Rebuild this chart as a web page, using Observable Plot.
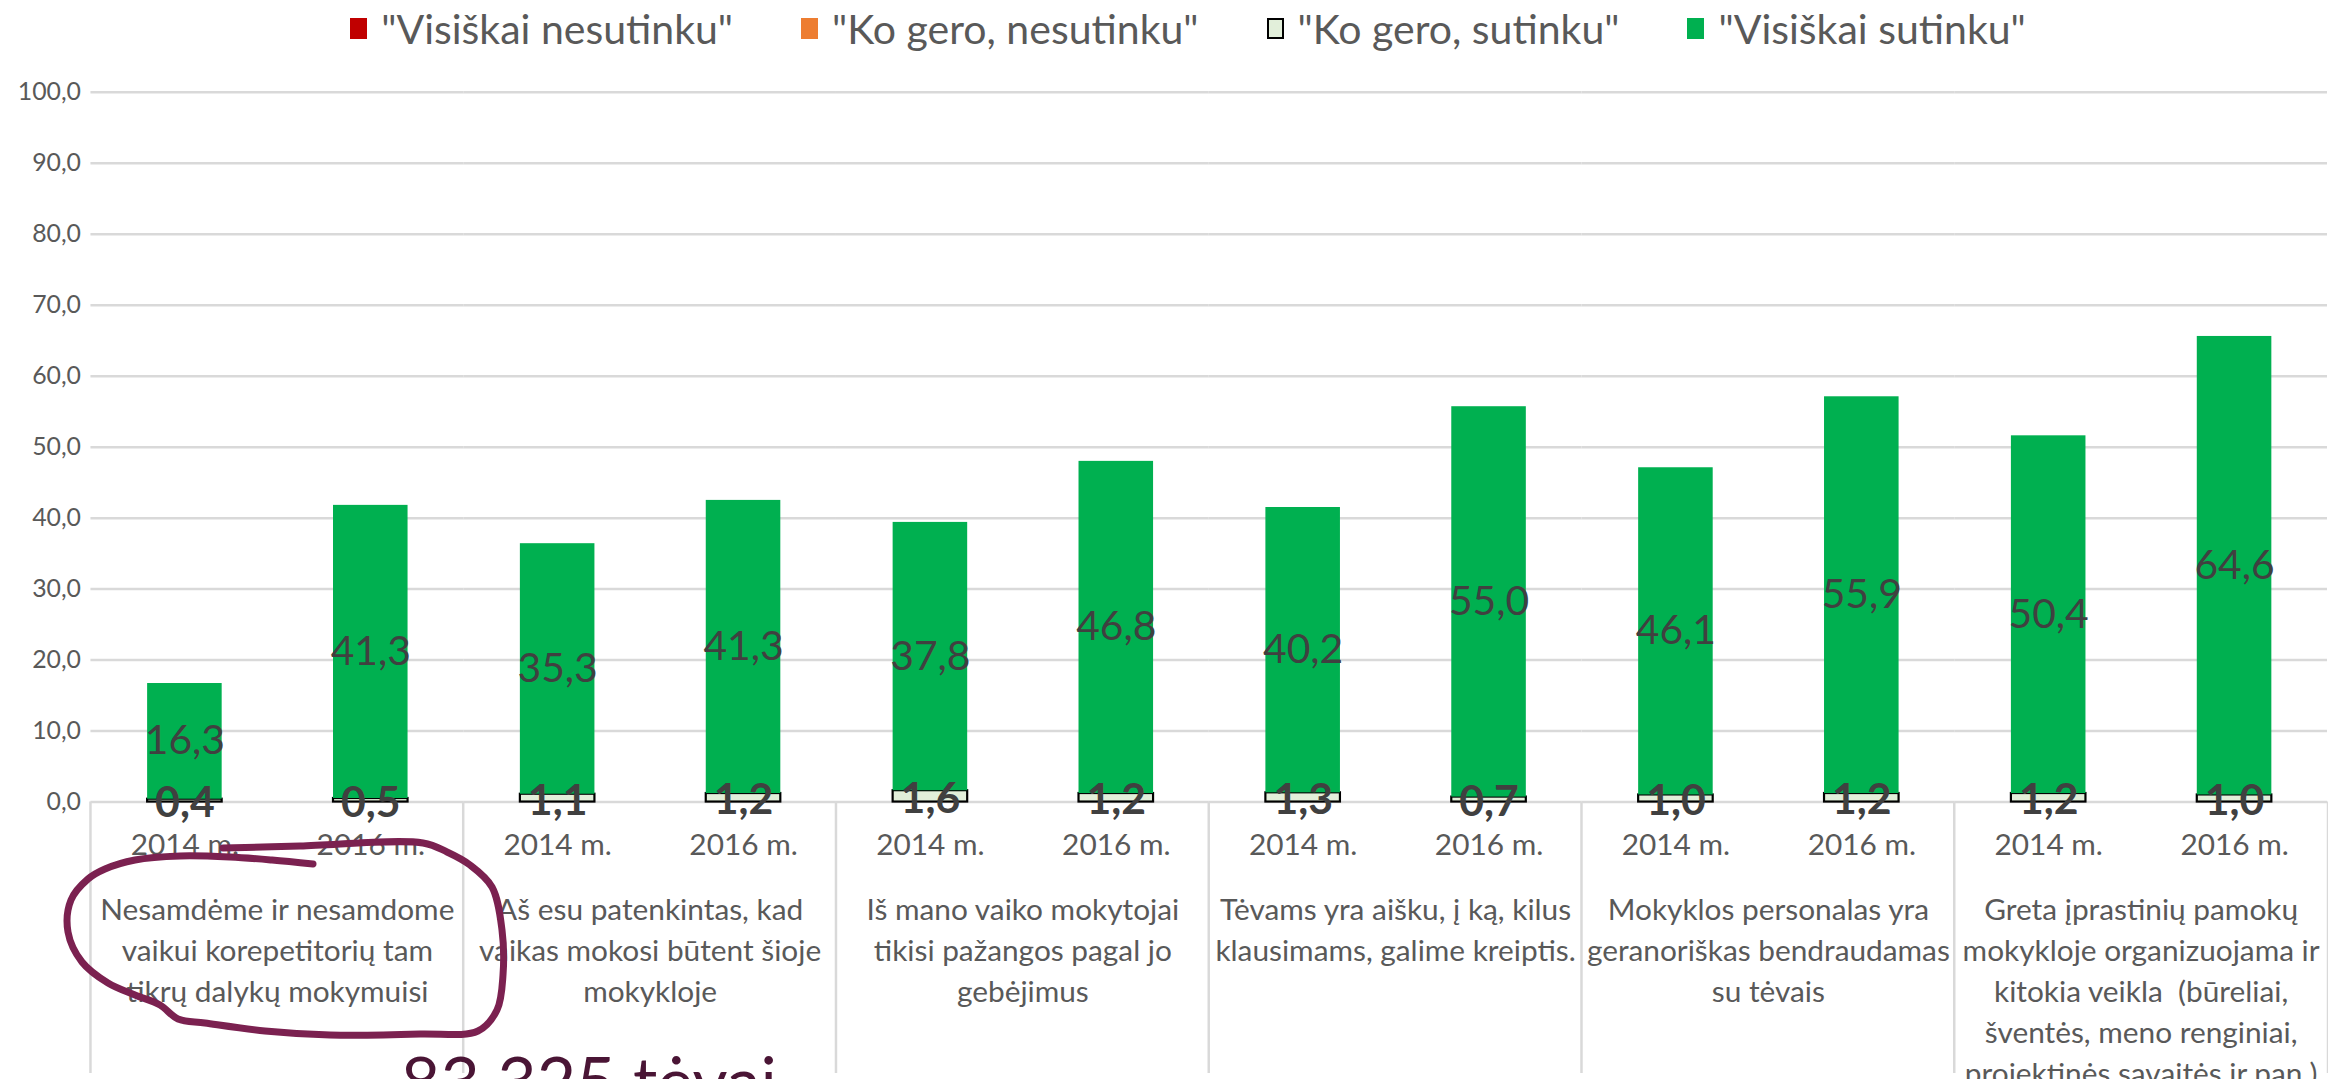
<!DOCTYPE html>
<html>
<head>
<meta charset="utf-8">
<script src="https://cdn.jsdelivr.net/npm/d3@7"></script>
<script src="https://cdn.jsdelivr.net/npm/@observablehq/plot@0.6"></script>
<style>
  html, body { margin: 0; padding: 0; background: #fff; overflow: hidden; }
  #wrap { position: relative; width: 2328px; height: 1079px; overflow: hidden; font-family: Lato, "Open Sans", sans-serif; }
  #legend { position: absolute; left: 0; top: 0; width: 2328px; height: 56px; display: flex; justify-content: center; align-items: center; gap: 68px; padding-left: 48px; box-sizing: border-box; }
  .item { display: flex; align-items: center; gap: 14px; font-size: 41px; color: #595959; white-space: nowrap; }
  .sw { width: 17px; height: 21px; box-sizing: border-box; }
  #chart { position: absolute; left: 0; top: 60px; }
  #big { position: absolute; left: 401px; top: 1046px; font-size: 68px; line-height: 1; color: #4a1535; white-space: nowrap; }
  #ink { position: absolute; left: 0; top: 0; pointer-events: none; }
</style>
</head>
<body>
<div id="wrap">
  <div id="legend"></div>
  <div id="chart"></div>
  <div id="big">83 325 tėvai</div>
</div>
<script>
// ---- data ----
const groups = [
  "Nesamdėme ir nesamdome\nvaikui korepetitorių tam\ntikrų dalykų mokymuisi",
  "Aš esu patenkintas, kad\nvaikas mokosi būtent šioje\nmokykloje",
  "Iš mano vaiko mokytojai\ntikisi pažangos pagal jo\ngebėjimus",
  "Tėvams yra aišku, į ką, kilus\nklausimams, galime kreiptis.",
  "Mokyklos personalas yra\ngeranoriškas bendraudamas\nsu tėvais",
  "Greta įprastinių pamokų\nmokykloje organizuojama ir\nkitokia veikla  (būreliai,\nšventės, meno renginiai,\nprojektinės savaitės ir pan.)"
];
const years = ["2014 m.", "2016 m."];
const koGeroSutinku = [0.4, 0.5, 1.1, 1.2, 1.6, 1.2, 1.3, 0.7, 1.0, 1.2, 1.2, 1.0];
const visiskaiSutinku = [16.3, 41.3, 35.3, 41.3, 37.8, 46.8, 40.2, 55.0, 46.1, 55.9, 50.4, 64.6];
const seriesNames = ["\"Visiškai nesutinku\"", "\"Ko gero, nesutinku\"", "\"Ko gero, sutinku\"", "\"Visiškai sutinku\""];
const seriesColors = ["#c00000", "#ed7d31", "#e2efda", "#00b050"];
const yTicks = [0, 10, 20, 30, 40, 50, 60, 70, 80, 90, 100];
const bigNote = "83 325 tėvai";

// ---- legend ----
const legend = document.getElementById("legend");
seriesNames.forEach((name, i) => {
  const it = document.createElement("div");
  it.className = "item";
  const sw = document.createElement("div");
  sw.className = "sw";
  sw.style.background = seriesColors[i];
  if (i === 2) sw.style.border = "2px solid #000";
  const tx = document.createElement("span");
  tx.textContent = name;
  it.appendChild(sw); it.appendChild(tx);
  legend.appendChild(it);
});
document.getElementById("big").textContent = bigNote;

// ---- table ----
const rows = koGeroSutinku.map((v, i) => ({
  group: groups[Math.floor(i / 2)],
  year: years[i % 2],
  some: v,
  full: visiskaiSutinku[i]
}));
const fmt = d => d.toFixed(1).replace(".", ",");

const W = 2342, H = 1019;
const plot = Plot.plot({
  width: W,
  height: H,
  marginLeft: 89,
  marginRight: 0,
  marginTop: 32,
  marginBottom: 273,
  style: { fontFamily: "Lato, 'Open Sans', sans-serif", background: "transparent", overflow: "visible" },
  fx: { domain: groups, padding: 0, axis: null },
  x: { domain: years, paddingInner: 0.6, paddingOuter: 0.3 },
  y: { domain: [0, 100] },
  marks: [
    Plot.gridY(yTicks, { stroke: "#d9d9d9", strokeOpacity: 1, strokeWidth: 2.5 }),
    Plot.barY(rows, { fx: "group", x: "year", y1: 0, y2: "some", fill: seriesColors[2], stroke: "#000", strokeWidth: 2.2 }),
    Plot.barY(rows, { fx: "group", x: "year", y1: "some", y2: d => d.some + d.full, fill: seriesColors[3] }),
    Plot.text(rows, { fx: "group", x: "year", y: d => d.some + d.full / 2, text: d => fmt(d.full), fontSize: 41, fill: "#404040" }),
    Plot.text(rows, { fx: "group", x: "year", y: d => d.some / 2, dy: 3, text: d => fmt(d.some), fontSize: 43, fontWeight: "bold", fill: "#404040" }),
    Plot.axisX({ anchor: "bottom", fontSize: 30, tickSize: 0, tickPadding: 32, color: "#595959", label: null }),
    Plot.axisY(yTicks, { anchor: "left", tickFormat: fmt, fontSize: 25, tickSize: 0, tickPadding: 10, color: "#595959", label: null }),
    Plot.text(groups, { fx: d => d, text: d => d, frameAnchor: "bottom", lineAnchor: "top", dy: 90, fontSize: 30, lineHeight: 1.37, fill: "#595959" })
  ]
});
document.getElementById("chart").appendChild(plot);

// group separators of the two-level category axis, placed with Plot's fx scale
const fxs = plot.scale("fx");
const ys = plot.scale("y");
const y0 = ys.apply(0);
const sep = d3.select(plot).append("g").attr("stroke", "#d9d9d9").attr("stroke-width", 2.5);
groups.forEach(g => {
  const x = fxs.apply(g);
  sep.append("line").attr("x1", x).attr("x2", x).attr("y1", y0).attr("y2", H);
});
sep.append("line").attr("x1", W).attr("x2", W).attr("y1", y0).attr("y2", H);

// freehand annotation loop (drawn over the slide)
const inkPts = [[223,848],[300,846],[423,843],[447,852],[470,865],[492,887],[502,930],[503,975],[497,1010],[478,1031],[420,1034],[330,1035],[265,1031],[205,1023],[178,1019],[160,1005],[135,995],[108,983],[82,962],[68,932],[71,900],[88,879],[105,869],[135,860],[180,856],[230,857],[272,860],[313,864]];
const ink = d3.select("#wrap").append("svg").attr("id", "ink").attr("width", 2328).attr("height", 1079);
ink.append("path")
  .attr("d", d3.line().curve(d3.curveCatmullRom)(inkPts))
  .attr("fill", "none").attr("stroke", "#7b2150").attr("stroke-width", 7)
  .attr("stroke-linecap", "round").attr("stroke-linejoin", "round");
</script>
</body>
</html>
